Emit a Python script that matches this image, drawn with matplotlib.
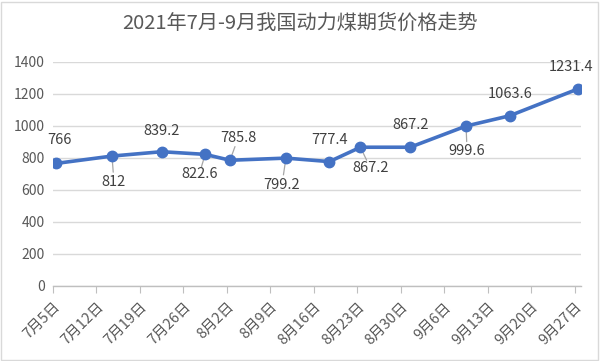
import matplotlib
matplotlib.use("Agg")
import matplotlib.pyplot as plt
import pandas as pd
from matplotlib.patches import Rectangle

plt.rcParams['font.family'] = ['Noto Sans CJK SC', 'DejaVu Sans']

# Data
dates = ['2021-07-05', '2021-07-14', '2021-07-22', '2021-07-29', '2021-08-02', '2021-08-11',
         '2021-08-18', '2021-08-23', '2021-08-31', '2021-09-09', '2021-09-16', '2021-09-27']
prices = [766, 812, 839.2, 822.6, 785.8, 799.2, 777.4, 867.2, 867.2, 999.6, 1063.6, 1231.4]
tick_labels = ['7月5日', '7月12日', '7月19日', '7月26日', '8月2日', '8月9日', '8月16日',
               '8月23日', '8月30日', '9月6日', '9月13日', '9月20日', '9月27日']
# label offsets in pixels (dx, dy) and whether a leader line is drawn
label_offsets = [(3, 23), (2, -26), (0, 21), (-6, -20), (8, 22), (-4, -27),
                 (0, 22), (10, -21), (0, 22), (1, -25), (1, 22), (-7, 22)]
leaders = [False, True, False, True, True, True, False, True, False, True, False, False]

start = pd.Timestamp('2021-07-05')
days = [(pd.Timestamp(d) - start).days + 0.5 for d in dates]
tick_pos = [7 * i for i in range(len(tick_labels))]

fig = plt.figure(figsize=(6, 3.61), dpi=100)
ax = fig.add_axes([0.0883, 0.2078, 0.8800, 0.6205])

ax.plot(days, prices, color='#4472C4', linewidth=2.6, marker='o', markersize=7.5,
        solid_capstyle='round', zorder=3)

for x, y, (dx, dy), lead in zip(days, prices, label_offsets, leaders):
    ax.annotate(f'{y:g}', (x, y), xytext=(dx, dy), textcoords='offset pixels',
                ha='center', va='center', fontsize=10.5, color='#404040')
    if lead:
        ax.annotate('', (x, y), xytext=(dx * 0.62, dy * 0.62), textcoords='offset pixels',
                    arrowprops=dict(arrowstyle='-', color='#A6A6A6', lw=0.9,
                                    shrinkA=0, shrinkB=3), zorder=2)

ax.set_xlim(0, 85)
ax.set_ylim(0, 1400)
ax.set_yticks(range(0, 1401, 200))
ax.set_xticks(tick_pos)
ax.set_xticklabels(tick_labels, rotation=45, ha='right', rotation_mode='anchor')
ax.tick_params(axis='y', length=0, labelsize=10, labelcolor='#595959', pad=6)
ax.tick_params(axis='x', length=5, color='#BFBFBF', labelsize=10.5, labelcolor='#595959', pad=5)
ax.grid(axis='y', color='#D9D9D9', linewidth=1)
ax.set_axisbelow(True)
for s in ['top', 'right', 'left']:
    ax.spines[s].set_visible(False)
ax.spines['bottom'].set_color('#BFBFBF')
ax.spines['bottom'].set_linewidth(1)

fig.text(0.5, 0.935, '2021年7月-9月我国动力煤期货价格走势', ha='center', va='center',
         fontsize=14.5, color='#595959')

fig.patches.append(Rectangle((0.002, 0.003), 0.994, 0.992, transform=fig.transFigure,
                             fill=False, edgecolor='#D9D9D9', linewidth=1))

fig.savefig('out.png', dpi=100)
